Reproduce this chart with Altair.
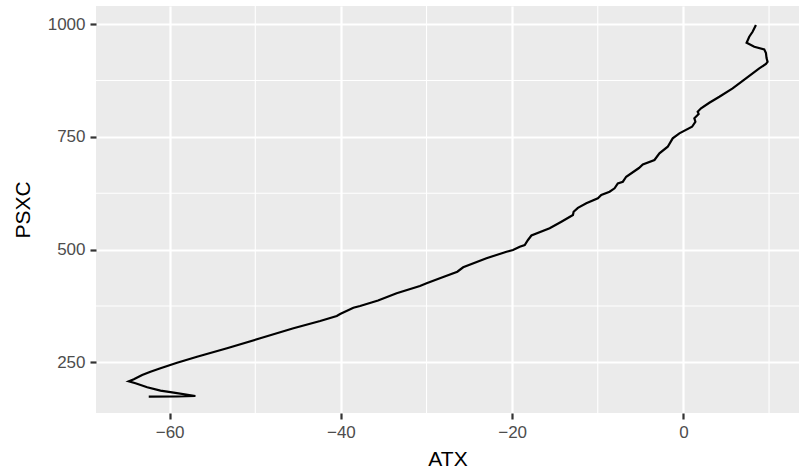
import altair as alt
import pandas as pd

# Profile (path order)
atx = [8.47, 8.08, 7.69, 7.38, 8.28, 9.44, 9.64, 9.71, 9.83, 9.64, 8.86, 7.31, 5.75, 4.20,
       3.03, 2.06, 1.67, 1.78, 1.28, 1.40, 1.01, -0.47, -1.25, -1.83, -2.80, -3.38, -4.74,
       -5.19, -6.68, -7.07, -7.66, -8.04, -8.62, -9.59, -9.99, -11.34, -12.32, -12.82,
       -12.90, -14.25, -15.62, -17.75, -18.15, -18.53, -19.11, -19.90, -20.66, -23.00,
       -25.72, -26.40, -28.44, -29.99, -30.77, -33.49, -35.66, -37.76, -38.54, -40.09,
       -40.48, -42.42, -45.54, -49.42, -53.30, -56.80, -59.13, -61.07, -62.24, -63.21,
       -64.18, -64.77, -63.99, -62.62, -61.07, -59.52, -56.99, -59.13, -62.44]
psxc = [997.8, 982.9, 971.9, 958.6, 949.7, 943.9, 935.7, 924.7, 916.5, 911.4, 901.8, 879.7,
        857.5, 838.9, 825.6, 813.2, 805.7, 800.6, 791.1, 783.5, 772.4, 757.8, 746.7, 728.1,
        713.5, 698.7, 688.7, 680.9, 661.6, 650.6, 647.0, 635.9, 628.4, 621.1, 613.8, 602.7,
        592.7, 584.1, 576.8, 561.9, 547.3, 531.4, 521.4, 510.3, 506.5, 499.2, 495.5, 480.8,
        460.9, 451.1, 436.5, 425.4, 419.5, 403.3, 387.3, 375.1, 371.2, 357.4, 353.0, 341.9,
        325.7, 303.6, 281.4, 262.8, 249.5, 237.1, 229.6, 222.3, 212.7, 208.3, 203.9, 195.0,
        187.5, 183.0, 175.7, 174.6, 174.2]

x_ticks = [-60, -40, -20, 0]
y_ticks = [250, 500, 750, 1000]
x_minor = [-50, -30, -10, 10]
y_minor = [375, 625, 875]

df = pd.DataFrame({"ATX": atx, "PSXC": psxc, "i": list(range(len(atx)))})
dmx = pd.DataFrame({"mx": x_minor})
dmy = pd.DataFrame({"my": y_minor})

xscale = alt.Scale(domain=[-68.6, 13.5], nice=False, zero=False)
yscale = alt.Scale(domain=[138, 1040], nice=False, zero=False)

xaxis = alt.Axis(values=x_ticks, title="ATX", format="d", labelPadding=5, titlePadding=8)
yaxis = alt.Axis(values=y_ticks, title="PSXC", format="d", labelPadding=5, titlePadding=14)

minor_x = alt.Chart(dmx).mark_rule(color="white", strokeWidth=1.1).encode(
    x=alt.X("mx:Q", scale=xscale, axis=xaxis)
)
minor_y = alt.Chart(dmy).mark_rule(color="white", strokeWidth=1.1).encode(
    y=alt.Y("my:Q", scale=yscale, axis=yaxis)
)
line = alt.Chart(df).mark_line(color="black", strokeWidth=2.2, clip=True).encode(
    x=alt.X("ATX:Q", scale=xscale, axis=xaxis),
    y=alt.Y("PSXC:Q", scale=yscale, axis=yaxis),
    order=alt.Order("i:Q"),
)

chart = alt.layer(minor_x, minor_y, line).properties(
    width=703, height=407,
    autosize=alt.AutoSizeParams(type="none"),
    padding={"left": 96, "top": 6, "right": 0, "bottom": 60},
    background="white",
).configure_view(
    fill="#EBEBEB", stroke=None
).configure_axis(
    domain=False,
    grid=True, gridColor="white", gridWidth=2.2,
    tickColor="#333333", tickSize=6, tickWidth=2.2,
    labelFont="Liberation Sans", labelFontSize=17, labelColor="#4D4D4D",
    titleFont="Liberation Sans", titleFontSize=21, titleColor="black",
    titleFontWeight="normal",
)

chart.save("out.html", embed_options={"renderer": "svg", "actions": False})
